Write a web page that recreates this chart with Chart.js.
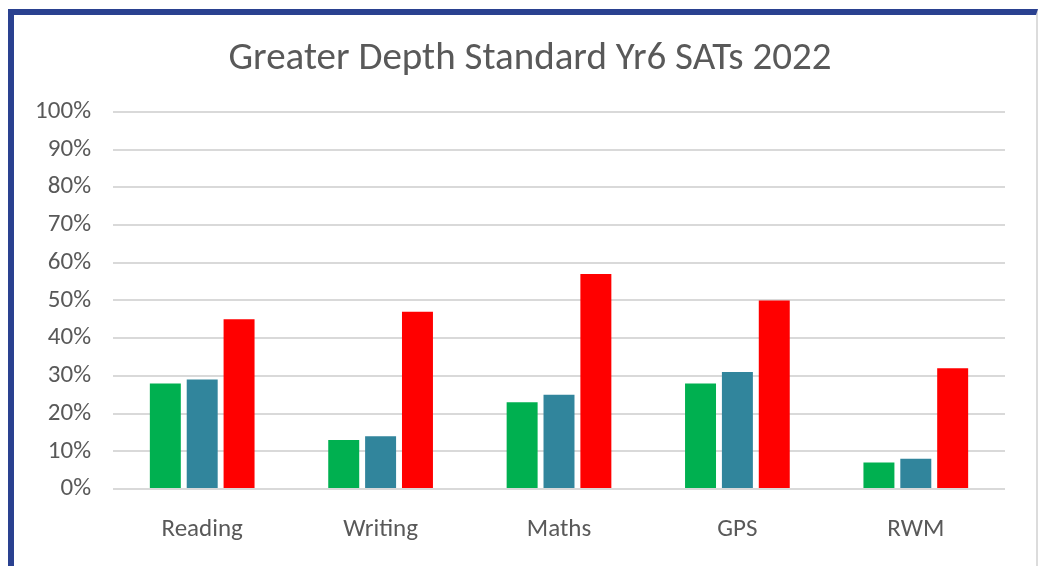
<!DOCTYPE html>
<html>
<head>
<meta charset="utf-8">
<script src="https://cdn.jsdelivr.net/npm/chart.js@4/dist/chart.umd.min.js"></script>
<style>
  html, body { margin: 0; padding: 0; background: #fff; }
  #frame {
    position: absolute; left: 8px; top: 9px; width: 1022px; height: 557px;
    border-top: 6px solid #2a4190; border-left: 6px solid #2a4190; border-right: 2px solid #dcdcdc;
  }
  #wrap { position: relative; width: 1022px; height: 551px; }
</style>
</head>
<body>
<div id="frame"><div id="wrap"><canvas id="satsChart"></canvas></div></div>
<script>
// subjects along the x axis
const subjects = ['Reading', 'Writing', 'Maths', 'GPS', 'RWM'];

// greater depth % per subject
const schoolVals = [28, 13, 23, 28, 7];
const laVals = [29, 14, 25, 31, 8];
const nationalVals = [45, 47, 57, 50, 32];

const seriesNames = ['School', 'Local Authority', 'National'];

const font = 'Carlito, "Liberation Sans Narrow", "Open Sans", sans-serif';

new Chart(satsChart, {
    type: 'bar',
    data: {
        labels: subjects,
        datasets: [{
            label: seriesNames[0],
            data: schoolVals,
            backgroundColor: '#00b050'
        },
        {
            label: seriesNames[1],
            data: laVals,
            backgroundColor: '#31859c'
        },
        {
            label: seriesNames[2],
            data: nationalVals,
            backgroundColor: '#ff0000'
        }]
    },
    options: {
        responsive: true,
        maintainAspectRatio: false,
        animation: false,
        categoryPercentage: 0.62,
        barPercentage: 0.84,
        layout: { padding: { left: 10, right: 0, top: 0, bottom: 0 } },
        plugins: {
            legend: { display: false },
            tooltip: { enabled: false },
            title: {
                display: true,
                text: 'Greater Depth Standard Yr6 SATs 2022',
                color: '#595959',
                font: { family: font, size: 39, weight: 'normal' },
                padding: { top: 21, bottom: 29 }
            }
        },
        scales: {
            x: {
                grid: { display: false },
                border: { display: false },
                ticks: { color: '#595959', font: { family: font, size: 25 }, padding: 18 },
                afterFit: function (s) { s.height = 77; }
            },
            y: {
                min: 0,
                max: 100,
                grid: { color: '#d9d9d9', lineWidth: 2, drawTicks: false },
                border: { display: false },
                ticks: {
                    stepSize: 10,
                    color: '#595959',
                    font: { family: font, size: 25 },
                    padding: 22,
                    callback: function (v) { return v + '%'; }
                },
                afterFit: function (s) { s.width = 89; }
            },
            // empty right-hand gutter so the title centres like the original
            y2: {
                position: 'right',
                grid: { display: false },
                border: { display: false },
                ticks: { display: false },
                afterFit: function (s) { s.width = 31; }
            }
        }
    }
});
</script>
</body>
</html>
